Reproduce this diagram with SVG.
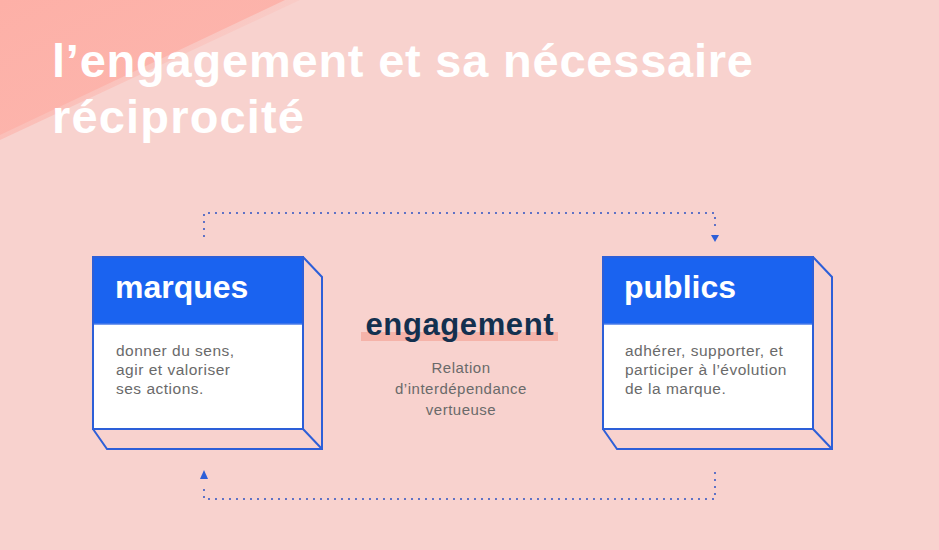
<svg xmlns="http://www.w3.org/2000/svg" width="939" height="550" viewBox="0 0 939 550">
<defs>
<linearGradient id="tri" x1="0" y1="0" x2="1" y2="1" gradientUnits="objectBoundingBox">
<stop offset="0" stop-color="#FDB0A7"/>
<stop offset="1" stop-color="#FCB7AF"/>
</linearGradient>
<linearGradient id="fade" x1="150" y1="40" x2="230" y2="150" gradientUnits="userSpaceOnUse">
<stop offset="0" stop-color="#FBBDB6" stop-opacity="0.9"/>
<stop offset="1" stop-color="#F8D2CE" stop-opacity="0"/>
</linearGradient>
<style>
.title{font-family:"Liberation Sans",Arial,sans-serif;font-weight:bold;font-size:47px;fill:#FFFFFF}
.hdr{fill:#1A63F0}
.frame{fill:none;stroke:#2D5FD8;stroke-width:2}
.body{fill:#FFFFFF}
.head{font-family:"Liberation Sans",Arial,sans-serif;font-weight:bold;font-size:32px;fill:#FFFFFF}
.txt{font-family:"Liberation Sans",Arial,sans-serif;font-size:15.5px;fill:#6A6A6A;letter-spacing:0.5px}
.mid{font-family:"Liberation Sans",Arial,sans-serif;font-size:15px;fill:#6A6A6A;letter-spacing:0.5px}
.eng{font-family:"Liberation Sans",Arial,sans-serif;font-weight:bold;font-size:31px;fill:#13304F}
.dot{fill:none;stroke:#3D5DC4;stroke-width:2.2;stroke-linecap:round;stroke-dasharray:0 7}
</style>
</defs>
<rect width="939" height="550" fill="#F8D2CE"/>
<polygon points="0,0 300,0 0,140" fill="url(#fade)"/>
<polygon points="0,0 285,0 0,135" fill="url(#tri)"/>
<g id="title">
<text class="title" x="52" y="77" textLength="701" lengthAdjust="spacing">l’engagement et sa nécessaire</text>
<text class="title" x="52" y="133" textLength="252" lengthAdjust="spacing">réciprocité</text>
</g>
<g id="connectors">
<path class="dot" d="M204,236 L204,213 L715,213 L715,230"/>
<polygon points="711,235 719,235 715,242" fill="#2D5FD8"/>
<path class="dot" d="M715,473 L715,499 L204,499 L204,485"/>
<polygon points="200,479 208,479 204,470" fill="#2D5FD8"/>
</g>
<g id="marques">
<rect class="body" x="93" y="257" width="210" height="172"/>
<rect class="hdr" x="93" y="257" width="210" height="67"/>
<line x1="93" y1="324" x2="303" y2="324" stroke="#4A7BE8" stroke-width="1.5"/>
<rect class="frame" x="93" y="257" width="210" height="172"/>
<path class="frame" d="M303,257 L322,277 L322,449 L107,449 L93,429 M303,429 L322,449"/>
<text class="head" x="115" y="298">marques</text>
<text class="txt" x="116" y="356">donner du sens,</text>
<text class="txt" x="116" y="375">agir et valoriser</text>
<text class="txt" x="116" y="394">ses actions.</text>
</g>
<g id="engagement">
<rect x="361" y="332" width="197" height="9" fill="#F5B3A9"/>
<text class="eng" x="459.5" y="335" text-anchor="middle" textLength="188" lengthAdjust="spacing">engagement</text>
<text class="mid" x="461" y="373" text-anchor="middle">Relation</text>
<text class="mid" x="461" y="394" text-anchor="middle">d’interdépendance</text>
<text class="mid" x="461" y="415" text-anchor="middle">vertueuse</text>
</g>
<g id="publics">
<rect class="body" x="603" y="257" width="210" height="172"/>
<rect class="hdr" x="603" y="257" width="210" height="67"/>
<line x1="603" y1="324" x2="813" y2="324" stroke="#4A7BE8" stroke-width="1.5"/>
<rect class="frame" x="603" y="257" width="210" height="172"/>
<path class="frame" d="M813,257 L832,277 L832,449 L617,449 L603,429 M813,429 L832,449"/>
<text class="head" x="624" y="298">publics</text>
<text class="txt" x="625" y="356">adhérer, supporter, et</text>
<text class="txt" x="625" y="375">participer à l’évolution</text>
<text class="txt" x="625" y="394">de la marque.</text>
</g>
</svg>
